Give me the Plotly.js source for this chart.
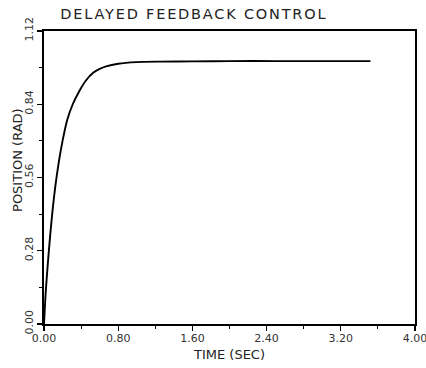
<!DOCTYPE html>
<html>
<head>
<meta charset="utf-8">
<script src="https://cdn.plot.ly/plotly-3.0.1.min.js"></script>
<style>
html,body{margin:0;padding:0;background:#fff;}
#chart{width:426px;height:368px;}
.gtitle{letter-spacing:1.8px;}
</style>
</head>
<body>
<div id="chart"></div>
<script>
// Data
const timeSec = [0, 0.02, 0.05, 0.08, 0.12, 0.16, 0.20, 0.25, 0.31, 0.38, 0.45, 0.53, 0.60, 0.67, 0.80, 1.00, 1.25, 1.60, 2.00, 2.50, 3.00, 3.52];
const positionRad = [0, 0.13, 0.27, 0.39, 0.52, 0.62, 0.70, 0.78, 0.84, 0.89, 0.93, 0.96, 0.975, 0.985, 0.995, 1.001, 1.003, 1.004, 1.005, 1.005, 1.005, 1.005];
const xTickVals = [0, 0.8, 1.6, 2.4, 3.2, 4.0];
const xTickText = ["0.00", "0.80", "1.60", "2.40", "3.20", "4.00"];
const yTickVals = [0, 0.28, 0.56, 0.84, 1.12];
const yTickText = ["0.00", "0.28", "0.56", "0.84", "1.12"];

const font = "DejaVu Sans, Liberation Sans, sans-serif";

const trace = {
  x: timeSec,
  y: positionRad,
  type: "scatter",
  mode: "lines",
  line: {color: "#000", width: 1.9, shape: "spline", smoothing: 0.8},
  hoverinfo: "none"
};

const layout = {
  width: 426, height: 368,
  margin: {l: 44, r: 11, t: 31, b: 44},
  paper_bgcolor: "#fff", plot_bgcolor: "#fff",
  showlegend: false,
  font: {family: font, color: "#222"},
  title: {text: "DELAYED FEEDBACK CONTROL", font: {family: font, size: 14.5, color: "#222"},
          x: 0.455, xanchor: "center", y: 0.962, yanchor: "middle"},
  xaxis: {
    range: [0, 4], tickmode: "array", tickvals: xTickVals, ticktext: xTickText,
    ticks: "outside", ticklen: 5, tickwidth: 1.2, tickcolor: "#000",
    minor: {dtick: 0.4, tick0: 0, ticks: "outside", ticklen: 3, tickcolor: "#000", tickwidth: 1},
    showline: true, linecolor: "#000", linewidth: 1.6, mirror: true,
    showgrid: false, zeroline: false,
    ticklabeloverflow: "allow",
    ticklabelstandoff: -2,
    tickfont: {family: font, size: 11, color: "#333"},
    title: {text: "TIME (SEC)", font: {family: font, size: 13, color: "#222"}, standoff: 6}
  },
  yaxis: {
    range: [0, 1.12], tickmode: "array", tickvals: yTickVals, ticktext: yTickText,
    tickangle: -90,
    ticks: "outside", ticklen: 5, tickwidth: 1.2, tickcolor: "#000",
    minor: {dtick: 0.14, tick0: 0, ticks: "outside", ticklen: 3, tickcolor: "#000", tickwidth: 1},
    showline: true, linecolor: "#000", linewidth: 1.9, mirror: true,
    showgrid: false, zeroline: false,
    tickfont: {family: font, size: 11, color: "#333"}
  },
  annotations: [{
    text: "POSITION (RAD)", xref: "paper", yref: "paper",
    x: -0.07, y: 0.56, xanchor: "center", yanchor: "middle",
    textangle: -90, showarrow: false,
    font: {family: font, size: 13, color: "#222"}
  }]
};

Plotly.newPlot("chart", [trace], layout, {staticPlot: true, displayModeBar: false});
</script>
</body>
</html>
